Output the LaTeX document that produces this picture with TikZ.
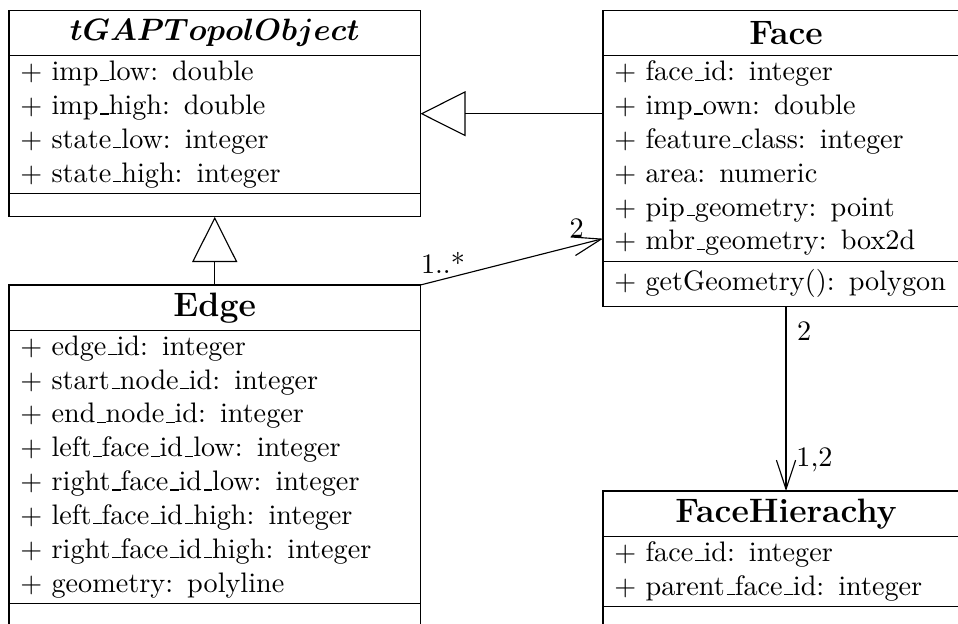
\documentclass[tikz,border=0pt]{standalone}
\usetikzlibrary{positioning,fit,arrows.meta}

\renewcommand{\_}{\leavevmode\kern.06em\vbox{\hrule width.3em}}

\tikzset{
	umlpart/.style={draw, inner xsep=4pt, inner ysep=0.4pt, outer sep=0pt, anchor=north west},
	widebox/.style={text width=137.9pt},
	narrowbox/.style={text width=121.8pt},
	classhead/.style={umlpart, align=center, minimum height=16.1pt, font=\large\bfseries},
	classattr/.style={umlpart, align=left, execute at begin node=\strut, execute at end node=\strut},
	classops/.style={umlpart, align=left, minimum height=8.3pt},
	classbox/.style={inner sep=0pt, outer sep=0pt},
	inherits/.style={-{Triangle[open,length=16pt,width=16pt]}},
	assoc/.style={-{Straight Barb[length=10.3pt,width=6.8pt]}},
	mult/.style={inner sep=0pt}
}

\begin{document}
\begin{tikzpicture}[x=0.3546pt, y=-0.3546pt]
	\useasboundingbox (0,0) rectangle (958,624);
	\clip (0,0) rectangle (958,624);
	% tGAPTopolObject
	\node[classhead, widebox, font=\fontsize{11.4}{13}\selectfont] (tgap-head) at (9,10.5) {{\boldmath$tGAPTopolObject$}};
	\node[classattr, widebox, below=0pt of tgap-head] (tgap-attr)
	{+ imp\_low: double\\+ imp\_high: double\\+ state\_low: integer\\+ state\_high: integer};
	\node[classops, widebox, below=0pt of tgap-attr] (tgap-ops) {};
	\node[classbox, fit=(tgap-head)(tgap-ops)] (tgap) {};
	% Face
	\node[classhead, narrowbox] (face-head) at (603,10.5) {Face};
	\node[classattr, narrowbox, below=0pt of face-head] (face-attr)
	{+ face\_id: integer\\+ imp\_own: double\\+ feature\_class: integer\\+ area: numeric\\+ pip\_geometry: point\\+ mbr\_geometry: box2d};
	\node[classops, narrowbox, minimum height=16.1pt, below=0pt of face-attr] (face-ops) {+ getGeometry(): polygon};
	\node[classbox, fit=(face-head)(face-ops)] (face) {};
	% Edge
	\node[classhead, widebox] (edge-head) at (9,285) {Edge};
	\node[classattr, widebox, below=0pt of edge-head] (edge-attr)
	{+ edge\_id: integer\\+ start\_node\_id: integer\\+ end\_node\_id: integer\\+ left\_face\_id\_low: integer\\+ right\_face\_id\_low: integer\\+ left\_face\_id\_high: integer\\+ right\_face\_id\_high: integer\\+ geometry: polyline};
	\node[classops, widebox, below=0pt of edge-attr] (edge-ops) {};
	\node[classbox, fit=(edge-head)(edge-ops)] (edge) {};
	% FaceHierachy
	\node[classhead, narrowbox] (fh-head) at (603,491) {FaceHierachy};
	\node[classattr, narrowbox, below=0pt of fh-head] (fh-attr)
	{+ face\_id: integer\\+ parent\_face\_id: integer};
	\node[classops, narrowbox, below=0pt of fh-attr] (fh-ops) {};
	\node[classbox, fit=(fh-head)(fh-ops)] (fh) {};
	% inheritance
	\draw[inherits] (tgap.east -| face.west) -- (tgap.east);
	\draw[inherits] (edge.north) -- (tgap.south);
	% associations
	\draw[assoc] (edge.north east)
	to node[mult, pos=0, anchor=base west, yshift=4.25pt] {1..*}
	node[mult, pos=1, anchor=base east, xshift=-6.6pt, yshift=0.35pt] {2}
	([yshift=-28.4pt]face.west);
	\draw[assoc] (face.south)
	to node[mult, pos=0, anchor=base west, xshift=3.7pt, yshift=-12.1pt] {2}
	node[mult, pos=1, anchor=base west, xshift=3.5pt, yshift=8.6pt] {1,2}
	(fh.north);
\end{tikzpicture}
\end{document}
